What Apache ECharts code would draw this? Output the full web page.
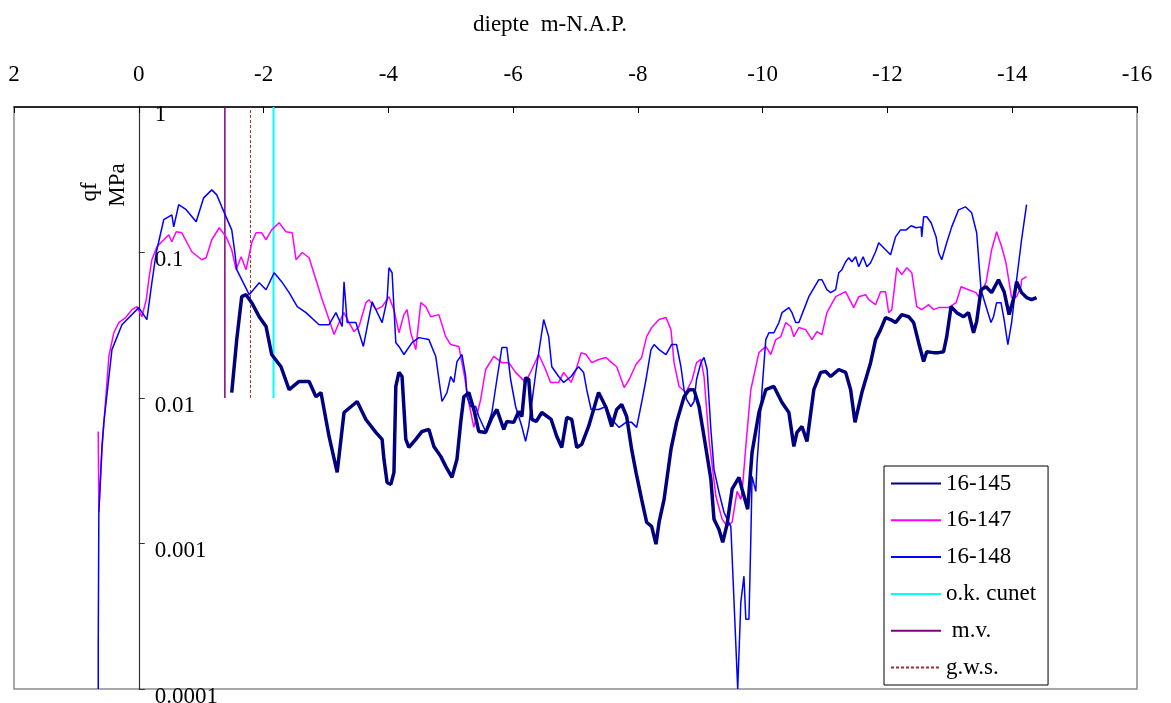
<!DOCTYPE html>
<html>
<head>
<meta charset="utf-8">
<title>Sondering qf</title>
<script src="https://cdn.jsdelivr.net/npm/echarts@6/dist/echarts.min.js"></script>
<style>
  html, body { margin: 0; padding: 0; background: #fff; }
  #chart { width: 1171px; height: 703px; }
</style>
</head>
<body>
<div id="chart"></div>
<script>
// Depth (m-N.A.P.) and cone resistance qf (MPa) per sounding
const depth145 = [-1.49,-1.57,-1.65,-1.72,-1.81,-1.93,-2.04,-2.13,-2.28,-2.41,-2.57,-2.73,-2.84,-2.92,-3.05,-3.18,-3.29,-3.50,-3.64,-3.80,-3.90,-3.93,-3.98,-4.04,-4.09,-4.12,-4.17,-4.22,-4.28,-4.33,-4.44,-4.54,-4.65,-4.73,-4.84,-4.92,-5.02,-5.10,-5.16,-5.21,-5.29,-5.37,-5.45,-5.56,-5.66,-5.74,-5.85,-5.90,-6.01,-6.09,-6.14,-6.20,-6.25,-6.30,-6.37,-6.46,-6.61,-6.70,-6.78,-6.86,-6.94,-7.02,-7.10,-7.21,-7.37,-7.49,-7.58,-7.66,-7.74,-7.82,-7.90,-7.97,-8.06,-8.14,-8.22,-8.29,-8.34,-8.42,-8.53,-8.62,-8.74,-8.82,-8.90,-8.98,-9.06,-9.17,-9.22,-9.30,-9.36,-9.43,-9.51,-9.62,-9.67,-9.76,-9.83,-9.94,-10.05,-10.18,-10.31,-10.42,-10.50,-10.55,-10.63,-10.71,-10.82,-10.93,-11.01,-11.09,-11.22,-11.33,-11.41,-11.48,-11.59,-11.73,-11.81,-11.89,-11.97,-12.05,-12.13,-12.23,-12.34,-12.42,-12.50,-12.58,-12.63,-12.74,-12.82,-12.90,-12.95,-13.02,-13.11,-13.22,-13.30,-13.38,-13.43,-13.50,-13.58,-13.67,-13.78,-13.87,-13.95,-14.03,-14.07,-14.15,-14.23,-14.31,-14.39];
const qf145 = [0.0109,0.0252,0.0497,0.0513,0.0452,0.0362,0.031,0.0199,0.0164,0.0114,0.013,0.013,0.0102,0.0109,0.00544,0.00308,0.00795,0.00946,0.00712,0.0058,0.00519,0.00379,0.00263,0.00255,0.00308,0.012,0.015,0.01405,0.00519,0.00457,0.00519,0.00589,0.00608,0.00465,0.00397,0.00339,0.00285,0.00379,0.0068,0.0102,0.0109,0.00834,0.00589,0.0058,0.00735,0.00834,0.00608,0.0069,0.0068,0.00808,0.00746,0.0138,0.0134,0.00712,0.0069,0.00795,0.00712,0.00544,0.00457,0.00735,0.00712,0.00457,0.0048,0.00637,0.0109,0.0086,0.00637,0.00834,0.00902,0.00746,0.00443,0.00308,0.00201,0.0014,0.00131,0.00099,0.0014,0.00201,0.00443,0.0068,0.0102,0.0114,0.0114,0.00874,0.00544,0.00276,0.00147,0.00125,0.00102,0.00136,0.00236,0.00285,0.00236,0.00172,0.00423,0.00795,0.0114,0.012,0.00931,0.00795,0.00465,0.0058,0.00637,0.00503,0.0114,0.015,0.0152,0.01405,0.0157,0.015,0.0114,0.0068,0.0109,0.0175,0.0252,0.0295,0.0357,0.0346,0.033,0.0374,0.0362,0.033,0.024,0.0178,0.0208,0.0205,0.0205,0.0208,0.0264,0.0425,0.0386,0.0362,0.0386,0.0281,0.0335,0.0555,0.0582,0.053,0.065,0.0538,0.0374,0.0497,0.063,0.053,0.049,0.0474,0.049];

const depth147 = [0.65,0.64,0.59,0.48,0.40,0.32,0.21,0.11,0.03,-0.05,-0.12,-0.16,-0.21,-0.29,-0.37,-0.48,-0.53,-0.60,-0.69,-0.85,-1.01,-1.08,-1.17,-1.29,-1.40,-1.49,-1.56,-1.64,-1.72,-1.81,-1.88,-1.97,-2.04,-2.13,-2.25,-2.36,-2.46,-2.52,-2.62,-2.73,-2.84,-2.94,-3.05,-3.13,-3.21,-3.29,-3.37,-3.45,-3.53,-3.64,-3.69,-3.80,-3.90,-4.01,-4.09,-4.17,-4.25,-4.30,-4.36,-4.44,-4.52,-4.60,-4.68,-4.81,-4.92,-5.00,-5.13,-5.21,-5.29,-5.37,-5.48,-5.56,-5.69,-5.82,-5.93,-6.04,-6.20,-6.30,-6.41,-6.52,-6.60,-6.73,-6.81,-6.93,-7.01,-7.09,-7.17,-7.26,-7.37,-7.49,-7.58,-7.66,-7.78,-7.86,-7.97,-8.06,-8.14,-8.22,-8.34,-8.45,-8.53,-8.58,-8.66,-8.77,-8.87,-8.94,-9.01,-9.06,-9.14,-9.25,-9.35,-9.43,-9.51,-9.59,-9.65,-9.67,-9.73,-9.81,-9.94,-10.05,-10.13,-10.21,-10.29,-10.37,-10.45,-10.50,-10.58,-10.69,-10.79,-10.87,-10.95,-11.03,-11.17,-11.33,-11.46,-11.54,-11.65,-11.70,-11.81,-11.89,-11.97,-12.02,-12.07,-12.15,-12.23,-12.31,-12.39,-12.47,-12.55,-12.66,-12.74,-12.82,-12.98,-13.10,-13.18,-13.30,-13.42,-13.46,-13.58,-13.67,-13.75,-13.83,-13.90,-13.99,-14.07,-14.14,-14.15,-14.23];
const qf147 = [0.00589,0.00164,0.00443,0.0193,0.0281,0.033,0.0357,0.0405,0.0425,0.0362,0.0474,0.065,0.0892,0.1095,0.1185,0.1324,0.1185,0.1388,0.1366,0.1012,0.0892,0.092,0.1224,0.1479,0.128,0.1045,0.0762,0.0935,0.0762,0.1166,0.1366,0.1366,0.1224,0.143,0.16,0.1388,0.1366,0.0892,0.1,0.092,0.065,0.0474,0.0346,0.0273,0.033,0.0386,0.033,0.0286,0.031,0.0452,0.0474,0.0405,0.0425,0.0497,0.0405,0.0281,0.0374,0.0405,0.0281,0.0215,0.0452,0.0425,0.0362,0.0374,0.0264,0.0233,0.0226,0.015,0.00931,0.00628,0.00977,0.0157,0.0193,0.0175,0.0175,0.015,0.0128,0.0157,0.0199,0.0157,0.0128,0.0128,0.015,0.0128,0.0157,0.0205,0.0199,0.0175,0.0184,0.019,0.0175,0.0164,0.0118,0.0134,0.017,0.019,0.0264,0.0305,0.0346,0.0357,0.0295,0.0175,0.012,0.0109,0.0134,0.0175,0.0184,0.01405,0.00519,0.00211,0.00147,0.00131,0.0014,0.00228,0.00201,0.00225,0.00465,0.0114,0.0205,0.0226,0.0199,0.0252,0.0264,0.033,0.031,0.0264,0.0305,0.0295,0.0252,0.0286,0.0273,0.0386,0.0497,0.0538,0.0418,0.0497,0.0513,0.0474,0.0438,0.0538,0.0538,0.0386,0.0405,0.0786,0.0704,0.0786,0.0726,0.0425,0.0405,0.0438,0.0405,0.0418,0.0418,0.0452,0.0582,0.0555,0.053,0.0497,0.062,0.1045,0.1388,0.1095,0.085,0.049,0.0497,0.0582,0.065,0.0682];

const depth148 = [0.65,0.65,0.64,0.59,0.56,0.43,0.27,0,-0.13,-0.21,-0.28,-0.40,-0.53,-0.56,-0.64,-0.76,-0.92,-1.04,-1.17,-1.25,-1.33,-1.49,-1.54,-1.57,-1.77,-1.93,-2.04,-2.17,-2.29,-2.41,-2.54,-2.68,-2.89,-3.05,-3.16,-3.26,-3.29,-3.34,-3.48,-3.60,-3.74,-3.90,-3.98,-4.01,-4.06,-4.12,-4.17,-4.25,-4.38,-4.49,-4.65,-4.76,-4.86,-4.94,-5.00,-5.05,-5.10,-5.18,-5.24,-5.26,-5.32,-5.40,-5.45,-5.56,-5.66,-5.74,-5.82,-5.90,-5.96,-6.04,-6.14,-6.20,-6.25,-6.37,-6.49,-6.57,-6.62,-6.73,-6.81,-6.93,-7.01,-7.05,-7.13,-7.18,-7.25,-7.37,-7.49,-7.58,-7.70,-7.81,-7.90,-7.98,-8.06,-8.13,-8.21,-8.26,-8.34,-8.45,-8.54,-8.62,-8.69,-8.74,-8.78,-8.85,-8.90,-8.94,-9.01,-9.06,-9.11,-9.17,-9.22,-9.30,-9.38,-9.43,-9.49,-9.60,-9.65,-9.70,-9.73,-9.78,-9.81,-9.83,-9.89,-9.91,-9.94,-9.99,-10.05,-10.10,-10.18,-10.26,-10.31,-10.42,-10.47,-10.53,-10.58,-10.66,-10.74,-10.90,-10.95,-11.03,-11.09,-11.17,-11.22,-11.27,-11.33,-11.38,-11.43,-11.49,-11.54,-11.61,-11.67,-11.73,-11.81,-11.86,-11.97,-12.05,-12.13,-12.21,-12.30,-12.38,-12.46,-12.54,-12.55,-12.58,-12.63,-12.70,-12.78,-12.82,-12.87,-12.95,-13.03,-13.14,-13.25,-13.35,-13.43,-13.50,-13.58,-13.66,-13.70,-13.75,-13.82,-13.87,-13.93,-13.99,-14.07,-14.15,-14.23];
const qf148 = [0.0001,0.0002,0.00164,0.00465,0.0068,0.0215,0.0319,0.0418,0.0346,0.062,0.1,0.168,0.1816,0.15,0.213,0.197,0.1625,0.2375,0.2695,0.249,0.206,0.143,0.1,0.0762,0.0513,0.062,0.0555,0.0726,0.063,0.053,0.0425,0.0386,0.0319,0.0319,0.0386,0.031,0.063,0.033,0.033,0.0226,0.0459,0.033,0.0474,0.0786,0.0726,0.024,0.0226,0.0199,0.024,0.026,0.0252,0.0193,0.00946,0.0109,0.01405,0.0128,0.0178,0.0199,0.01405,0.0102,0.00874,0.00874,0.00746,0.00589,0.00795,0.0134,0.0222,0.0222,0.0134,0.00874,0.00637,0.00503,0.00637,0.0157,0.0346,0.0264,0.0164,0.01405,0.0128,0.01405,0.0157,0.0164,0.015,0.0114,0.00834,0.00834,0.00874,0.00712,0.00628,0.0068,0.0068,0.00628,0.00931,0.0134,0.0215,0.0233,0.0215,0.0199,0.0233,0.0233,0.0164,0.0114,0.00977,0.00874,0.00946,0.0134,0.0175,0.019,0.0157,0.00608,0.00323,0.00225,0.00164,0.00147,0.00131,0.0001,0.000395,0.000596,0.000302,0.000302,0.00107,0.00289,0.00228,0.00361,0.00544,0.0114,0.0252,0.0281,0.0281,0.033,0.0386,0.0418,0.0386,0.033,0.033,0.0405,0.0497,0.065,0.065,0.0555,0.053,0.0555,0.0726,0.0762,0.0864,0.092,0.0864,0.0935,0.0798,0.0935,0.0798,0.085,0.1012,0.1166,0.1045,0.0965,0.128,0.143,0.143,0.1526,0.1479,0.15,0.128,0.176,0.176,0.16,0.128,0.1,0.0892,0.1166,0.15,0.1965,0.206,0.1874,0.1366,0.0555,0.0425,0.033,0.0362,0.0452,0.0452,0.0346,0.0233,0.033,0.065,0.1224,0.213];

// Reference levels (depth, m-N.A.P.) drawn as vertical markers from 0.01 to 1 MPa
const levelCunet = -2.16;
const levelMaaiveld = -1.38;
const levelGws = -1.79;
const markerRange = [0.01, 1];

// Axis ticks
const xTicks = [2, 0, -2, -4, -6, -8, -10, -12, -14, -16];
const yTickLabels = ['0.0001', '0.001', '0.01', '0.1', '1'];

const zip = (xs, ys) => xs.map((x, i) => [x, ys[i]]);
const vertical = d => markerRange.map(v => [d, v]);

const FONT = '"Liberation Serif", "Times New Roman", serif';

const GRID_LEFT = 14;
const GRID_WIDTH = 1123;
// horizontal pixel position of depth 0 inside the grid, where the qf axis stands
const zeroOffset = GRID_WIDTH * (2 / 18);

const chart = echarts.init(document.getElementById('chart'), null, { renderer: 'canvas' });

const lineSeries = (name, data, color, width, extra) => Object.assign({
  name, type: 'line', data, showSymbol: false, symbol: 'none',
  lineStyle: { color, width }, itemStyle: { color, opacity: 0 }
}, extra || {});

chart.setOption({
  animation: false,
  backgroundColor: '#ffffff',
  textStyle: { fontFamily: FONT },
  grid: {
    left: GRID_LEFT, top: 107, width: GRID_WIDTH, height: 582,
    outerBoundsMode: 'none', containLabel: false,
    show: true, borderColor: '#8c8c8c', borderWidth: 1.5, backgroundColor: 'transparent'
  },
  graphic: [
    { type: 'text', x: 473, y: 25, style: { text: 'diepte  m-N.A.P.', font: '23px ' + FONT, fill: '#000', textAlign: 'left', textVerticalAlign: 'middle' } },
    { type: 'text', x: 90, y: 192, rotation: Math.PI / 2, style: { text: 'qf', font: '23px ' + FONT, fill: '#000', textAlign: 'center', textVerticalAlign: 'middle' } },
    { type: 'text', x: 118, y: 185, rotation: Math.PI / 2, style: { text: 'MPa', font: '23px ' + FONT, fill: '#000', textAlign: 'center', textVerticalAlign: 'middle' } }
  ],
  legend: {
    orient: 'vertical',
    left: 884, top: 466,
    padding: [6, 12, 6, 6],
    itemWidth: 50, itemHeight: 14, itemGap: 13.8,
    backgroundColor: '#fff',
    borderColor: '#000', borderWidth: 1,
    itemStyle: { opacity: 0 },
    textStyle: { fontFamily: FONT, fontSize: 23, color: '#000', lineHeight: 22 },
    data: ['16-145', '16-147', '16-148', 'o.k. cunet', ' m.v.', 'g.w.s.']
  },
  xAxis: {
    type: 'value',
    position: 'top',
    inverse: true,
    min: -16, max: 2, interval: 2,
    axisLine: { show: true, lineStyle: { color: '#000', width: 1.5 } },
    axisTick: { show: true, inside: true, length: 6, lineStyle: { color: '#000' } },
    axisLabel: { margin: 21, fontSize: 23, color: '#000', fontFamily: FONT,
      formatter: v => (xTicks.includes(v) ? String(v) : '') },
    splitLine: { show: false }
  },
  yAxis: {
    type: 'log',
    logBase: 10,
    min: 0.0001, max: 1,
    position: 'left',
    offset: -zeroOffset,
    axisLine: { show: true, onZero: false, lineStyle: { color: '#333', width: 1.2 } },
    axisTick: { show: true, inside: true, length: 6, lineStyle: { color: '#333' } },
    axisLabel: {
      inside: true, margin: 16, fontSize: 23, color: '#000', fontFamily: FONT,
      verticalAlign: 'top', lineHeight: 15,
      showMinLabel: true, showMaxLabel: true,
      formatter: v => yTickLabels[Math.round(Math.log10(v)) + 4] || ''
    },
    splitLine: { show: false }
  },
  series: [
    lineSeries('16-145', zip(depth145, qf145), '#000080', 3.5, { z: 5 }),
    lineSeries('16-147', zip(depth147, qf147), '#ff00ff', 1.5, { z: 3 }),
    lineSeries('16-148', zip(depth148, qf148), '#0000ff', 1.5, { z: 4 }),
    lineSeries('o.k. cunet', vertical(levelCunet), '#00ffff', 2, { z: 2 }),
    lineSeries(' m.v.', vertical(levelMaaiveld), '#800080', 1.5, { z: 2 }),
    lineSeries('g.w.s.', vertical(levelGws), '#a0302a', 1, { z: 2, lineStyle: { color: '#a0302a', width: 1, type: [3, 2] } })
  ]
});
</script>
</body>
</html>
